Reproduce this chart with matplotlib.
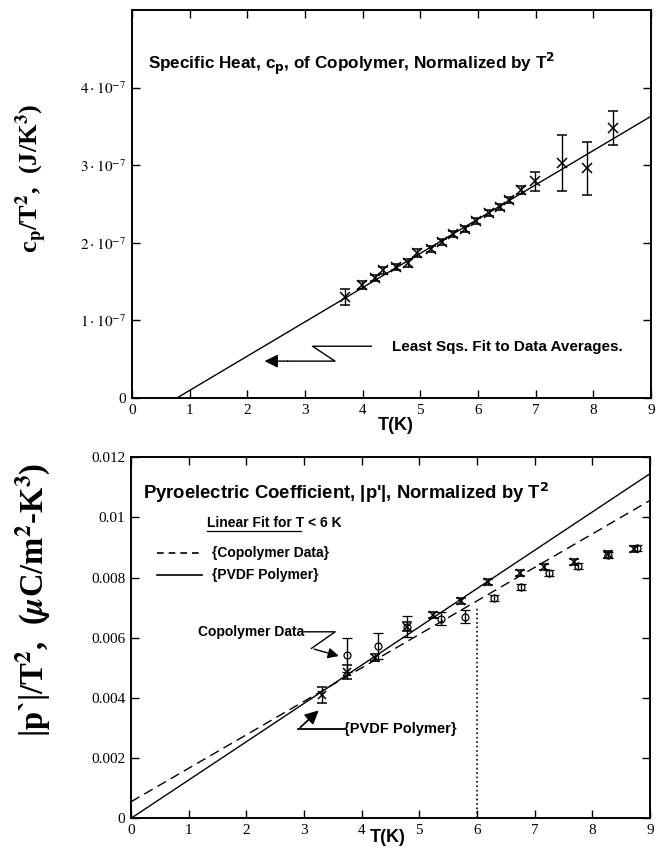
import numpy as np
import matplotlib
matplotlib.use('Agg')
import matplotlib.pyplot as plt

# specific heat data (cp/T^2 in units of 1e-7 J/K^3)
T_cp = [3.69, 3.98, 4.22, 4.36, 4.57, 4.79, 4.95, 5.19, 5.37, 5.57,
        5.77, 5.96, 6.19, 6.38, 6.53, 6.74, 6.98, 7.46, 7.89, 8.34]
cp = [1.30, 1.46, 1.545, 1.643, 1.686, 1.737, 1.87, 1.92, 2.015, 2.11,
      2.18, 2.285, 2.38, 2.46, 2.555, 2.68, 2.79, 3.03, 2.96, 3.48]
cp_err = [0.10, 0.05, 0.04, 0.05, 0.04, 0.05, 0.05, 0.04, 0.04, 0.04,
          0.04, 0.04, 0.04, 0.04, 0.04, 0.05, 0.12, 0.36, 0.34, 0.22]
cp_fit_slope = 0.4416
cp_fit_icpt = -0.344

# pyroelectric data, PVDF polymer (x markers)
T_pvdf = [3.32, 3.75, 4.23, 4.78, 5.24, 5.72, 6.19, 6.74, 7.17, 7.69, 8.27, 8.73]
p_pvdf = [0.0041, 0.00487, 0.00534, 0.00637, 0.00675, 0.00724, 0.00784,
          0.00815, 0.00836, 0.00853, 0.00877, 0.00894]
p_pvdf_err = [0.00028, 0.00023, 0.00012, 0.00015, 0.0001, 0.0001, 0.0001,
              0.0001, 0.0001, 0.0001, 0.0001, 0.0001]

# copolymer data (open circles)
T_copo = [3.74, 4.29, 4.78, 5.38, 5.79, 6.30, 6.76, 7.25, 7.75, 8.28, 8.78]
p_copo = [0.00543, 0.00573, 0.00637, 0.00664, 0.0067, 0.00731, 0.00769,
          0.00816, 0.00839, 0.00875, 0.00898]
p_copo_err = [0.00055, 0.00043, 0.00034, 0.00021, 0.00022, 0.0001, 0.0001,
              0.0001, 0.0001, 0.0001, 0.0001]

# linear fits for T < 6 K
copo_slope, copo_icpt = 0.001113, 0.00055
pvdf_slope, pvdf_icpt = 0.001273, 0.0
T_cut = 6.0
cut_top = 0.0070

top_yticks = [0, 1e-7, 2e-7, 3e-7, 4e-7]
top_ylabels = ['0', r'$1\cdot10^{-7}$', r'$2\cdot10^{-7}$', r'$3\cdot10^{-7}$', r'$4\cdot10^{-7}$']
bot_yticks = [0, 0.002, 0.004, 0.006, 0.008, 0.01, 0.012]
bot_ylabels = ['0', '0.002', '0.004', '0.006', '0.008', '0.01', '0.012']
xticks = list(range(10))

sans = 'Liberation Sans'
serif = 'Liberation Serif'

fig = plt.figure(figsize=(6.62, 8.48), dpi=100)
ax1 = fig.add_axes([0.1994, 0.5307, 0.784, 0.4575])
ax2 = fig.add_axes([0.1979, 0.035, 0.784, 0.4257])


def style(ax, yt, yl):
    ax.set_xlim(0, 9)
    ax.set_xticks(xticks)
    ax.set_xticklabels([str(x) for x in xticks], family=serif, fontsize=11)
    ax.set_yticks(yt)
    ax.set_yticklabels(yl, family=serif, fontsize=11, math_fontfamily='stix')
    ax.tick_params(direction='in', length=6, width=1, top=True, right=True, pad=4)
    for s in ax.spines.values():
        s.set_linewidth(1.4)


# top panel
cp_arr = np.array(cp) * 1e-7
ax1.errorbar(T_cp, cp_arr, yerr=np.array(cp_err) * 1e-7, fmt='x', color='k',
             ms=7, mew=1.1, capsize=3.5, elinewidth=1)
T0 = -cp_fit_icpt / cp_fit_slope
tf = np.array([T0, 9.0])
ax1.plot(tf, (cp_fit_slope * tf + cp_fit_icpt) * 1e-7, 'k-', lw=1)
ax1.set_ylim(0, 5e-7)
style(ax1, top_yticks, top_ylabels)

ax1.text(0.28, 4.31e-7, r'Specific Heat, c$_\mathbf{p}$, of Copolymer, Normalized by T$^\mathbf{2}$',
         family=sans, fontweight='bold', fontsize=12.3, va='center')
ax1.plot([4.15, 3.13, 3.52, 2.7], np.array([0.667, 0.667, 0.475, 0.475]) * 1e-7, 'k-', lw=1)
ax1.annotate('', xy=(2.25, 0.475e-7), xytext=(2.75, 0.475e-7),
             arrowprops=dict(arrowstyle='-|>', color='k', lw=1, mutation_scale=20))
ax1.text(4.5, 0.66e-7, 'Least Sqs. Fit to Data Averages.', family=sans,
         fontweight='bold', fontsize=11, va='center')
ax1.set_ylabel(r'c$_\mathbf{p}$/T$^\mathbf{2}$,  (J/K$^\mathbf{3}$)', family=serif,
               fontweight='bold', fontsize=19, math_fontfamily='stix')
ax1.yaxis.set_label_coords(-0.16, 0.567)
fig.text(0.597, 0.4988, 'T(K)', family=sans, fontweight='bold', fontsize=13,
         ha='center', va='center')

# bottom panel
ax2.errorbar(T_pvdf, p_pvdf, yerr=p_pvdf_err, fmt='x', color='k', ms=6, mew=1.1,
             capsize=3.5, elinewidth=1)
ax2.errorbar(T_copo, p_copo, yerr=p_copo_err, fmt='o', color='k', mfc='none',
             ms=5, mew=0.9, capsize=3.5, elinewidth=1)
tl = np.array([0.0, 9.0])
ax2.plot(tl, copo_slope * tl + copo_icpt, 'k', lw=1, dashes=(7, 4))
ax2.plot(tl, pvdf_slope * tl + pvdf_icpt, 'k-', lw=1)
ax2.vlines(T_cut, 0, cut_top, colors='k', linestyles=':', lw=1.2)
ax2.set_ylim(0, 0.012)
style(ax2, bot_yticks, bot_ylabels)

ax2.text(0.21, 0.0108, r"Pyroelectric Coefficient, |p'|, Normalized by T$^\mathbf{2}$",
         family=sans, fontweight='bold', fontsize=13.3, va='center')
ax2.text(1.31, 0.00981, 'Linear Fit for T < 6 K', family=sans, fontweight='bold',
         fontsize=10, va='center')
ax2.plot([1.31, 2.95], [0.00955, 0.00955], 'k-', lw=0.9)
ax2.plot([0.45, 1.23], [0.00882, 0.00882], 'k', lw=1.2, dashes=(4, 3))
ax2.plot([0.45, 1.23], [0.00808, 0.00808], 'k-', lw=1.2)
ax2.text(1.4, 0.00882, '{Copolymer Data}', family=sans, fontweight='bold', fontsize=10, va='center')
ax2.text(1.4, 0.00808, '{PVDF Polymer}', family=sans, fontweight='bold', fontsize=10, va='center')

ax2.text(3.0, 0.0062, 'Copolymer Data', family=sans, fontweight='bold', fontsize=10,
         ha='right', va='center')
ax2.plot([3.0, 3.54, 3.13], [0.0062, 0.0062, 0.00565], 'k-', lw=1)
ax2.annotate('', xy=(3.65, 0.00537), xytext=(3.13, 0.00565),
             arrowprops=dict(arrowstyle='-|>', color='k', lw=1, mutation_scale=16))
ax2.text(3.7, 0.00296, '{PVDF Polymer}', family=sans, fontweight='bold', fontsize=10.5,
         va='center')
ax2.plot([3.7, 2.9], [0.00296, 0.00296], 'k-', lw=1.3)
ax2.annotate('', xy=(3.29, 0.00365), xytext=(2.9, 0.00296),
             arrowprops=dict(arrowstyle='-|>', color='k', lw=1.3, mutation_scale=20))
ax2.set_ylabel(r"|p`|/T$^\mathbf{2}$,  ($\mathbfit{\mu}$C/m$^\mathbf{2}$-K$^\mathbf{3}$)",
               family=serif, fontweight='bold', fontsize=23.5, math_fontfamily='stix')
ax2.yaxis.set_label_coords(-0.15, 0.605)
fig.text(0.586, 0.0118, 'T(K)', family=sans, fontweight='bold', fontsize=13,
         ha='center', va='center')

fig.savefig('out.png', dpi=100)
